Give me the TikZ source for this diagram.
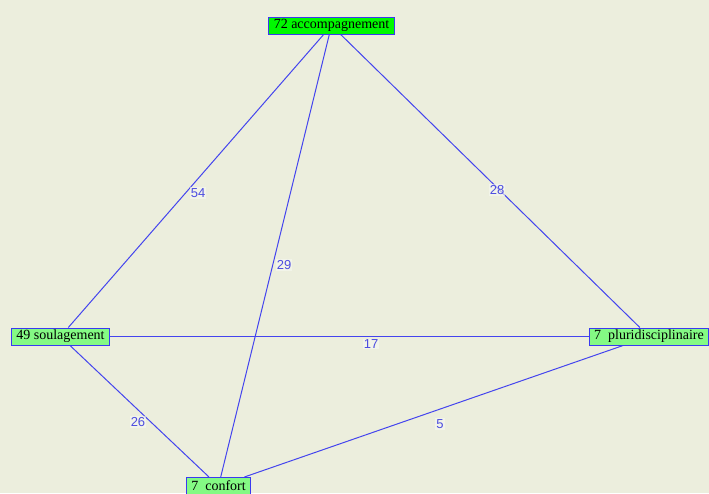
\documentclass[tikz,border=0pt]{standalone}
\usepackage{fontspec}
\setmainfont{Liberation Serif}
\newfontfamily\lblfont{Liberation Sans}
\usetikzlibrary{backgrounds}
\definecolor{bgcol}{HTML}{ECEEDD}
\definecolor{edgecol}{HTML}{4444EE}
\definecolor{bordercol}{HTML}{3A3AF0}
\definecolor{lblcol}{HTML}{4C4CE0}
\definecolor{hotgreen}{HTML}{00F800}
\definecolor{softgreen}{HTML}{84FA84}
\tikzset{
  termbox/.style={draw=bordercol, line width=1pt, fill=softgreen, font=\fontsize{14}{14}\selectfont,
    inner xsep=5pt, inner ysep=1pt, minimum height=17pt, text=black},
  hotbox/.style={termbox, fill=hotgreen},
  link/.style={draw=edgecol, line width=1pt},
  weight/.style={font=\lblfont\fontsize{13}{13}\selectfont, text=lblcol, fill=bgcol!40!white,
    fill opacity=0.6, text opacity=1, inner sep=1pt}
}
\begin{document}
\begin{tikzpicture}[x=1pt, y=-1pt]
\useasboundingbox (0,0) rectangle (709,493);
\node[hotbox] (acc) at (331.5,25.5) {72 accompagnement};
\node[termbox] (sou) at (60.5,336.5) {49 soulagement};
\node[termbox] (plu) at (649,336.5) {7\ \ pluridisciplinaire};
\node[termbox] (con) at (218.5,486) {7\ \ confort};
\begin{scope}[on background layer]
\fill[bgcol] (0,0) rectangle (709,493);
\draw[link] (acc) -- (sou);
\draw[link] (acc) -- (con);
\draw[link] (acc) -- (plu);
\draw[link] (sou) -- (plu);
\draw[link] (sou) -- (con);
\draw[link] (con) -- (plu);
\end{scope}
\node[weight] (w54) at (198,193) {54};
\node[weight] (w29) at (284,265) {29};
\node[weight] (w28) at (497,190) {28};
\node[weight] (w17) at (371,344) {17};
\node[weight] (w26) at (138,422) {26};
\node[weight] (w5) at (440,424) {5};
\end{tikzpicture}
\end{document}
